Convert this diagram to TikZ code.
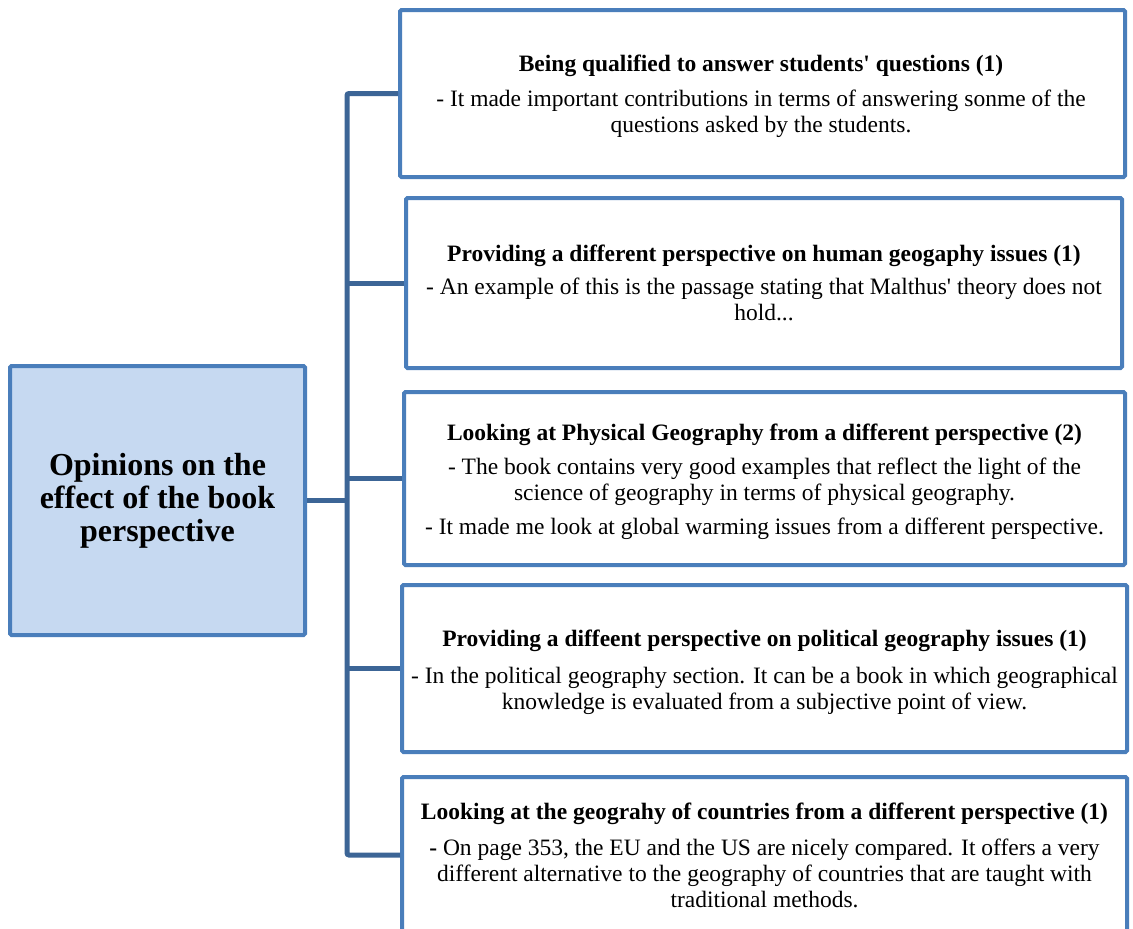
\documentclass[tikz,border=0pt]{standalone}
\usepackage{fontspec}
\setmainfont{Liberation Serif}
\definecolor{boxblue}{HTML}{4A7EBB}
\definecolor{connblue}{HTML}{3C6596}
\definecolor{mainfill}{HTML}{C6D9F1}
\begin{document}
\begin{tikzpicture}[x=1pt,y=-1pt,
  box/.style={draw=boxblue, line width=4pt, fill=white, rectangle, rounded corners=1.5pt, inner sep=0pt},
  mainbox/.style={box, fill=mainfill, align=center, font=\fontsize{32}{33}\selectfont\bfseries},
  conn/.style={draw=connblue, line width=5pt, rounded corners=2pt},
  txt/.style={anchor=north, align=center, inner sep=0pt, font=\fontsize{23.5}{26}\selectfont}]
\useasboundingbox (0,0) rectangle (1133,929);
\clip (0,0) rectangle (1133,929);
\fill[white] (0,0) rectangle (1133,929);

% boxes
\node[mainbox, minimum width=295pt, minimum height=269pt] (main) at (157.5,500.5)
  {Opinions on the\\effect of the book\\perspective};
\node[box, minimum width=725pt, minimum height=167pt] (b1) at (762.5,93.5) {};
\node[box, minimum width=716pt, minimum height=170pt] (b2) at (764,283) {};
\node[box, minimum width=721pt, minimum height=173pt] (b3) at (764.5,478.5) {};
\node[box, minimum width=725pt, minimum height=167pt] (b4) at (764.5,668.5) {};
\node[box, minimum width=725pt, minimum height=156pt] (b5) at (764.5,855) {};

% connectors
\coordinate (bot) at (347,855);
\draw[conn] (b1.west) -| (bot) -- (b5.west);
\draw[conn] (b2.west) -- (b2.west -| bot);
\draw[conn] (b3.west) -- (b3.west -| bot);
\draw[conn] (b4.west) -- (b4.west -| bot);
\draw[conn] (main.east) -- (main.east -| bot);

% texts
\node[txt] (t1) at (761,55) {\textbf{Being qualified to answer students\textquotesingle{} questions (1)}\\[9pt]
  - It made important contributions in terms of answering sonme of the\\
  questions asked by the students.};
\node[txt] (t2) at (764,245) {\textbf{Providing a different perspective on human geogaphy issues (1)}\\[7pt]
  - An example of this is the passage stating that Malthus\textquotesingle{} theory does not\\
  hold...};
\node[txt] (t3) at (764.5,424) {\textbf{Looking at Physical Geography from a different perspective (2)}\\[8pt]
  - The book contains very good examples that reflect the light of the\\
  science of geography in terms of physical geography.\\[8pt]
  - It made me look at global warming issues from a different perspective.};
\node[txt] (t4) at (764.5,630) {\textbf{Providing a diffeent perspective on political geography issues (1)}\\[11pt]
  - In the political geography section. It can be a book in which geographical\\
  knowledge is evaluated from a subjective point of view.};
\node[txt] (t5) at (764.5,803) {\textbf{Looking at the geograhy of countries from a different perspective (1)}\\[10pt]
  \textbf{-} On page 353, the EU and the US are nicely compared. It offers a very\\
  different alternative to the geography of countries that are taught with\\
  traditional methods.};
\end{tikzpicture}
\end{document}
